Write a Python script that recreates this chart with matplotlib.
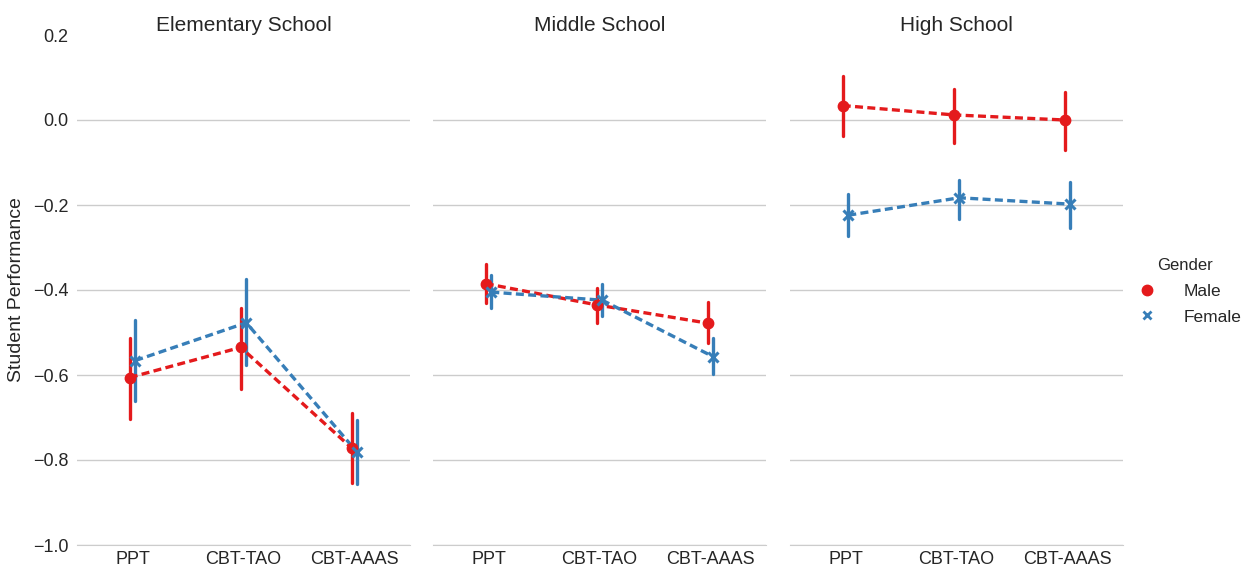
import numpy as np
import matplotlib.pyplot as plt

plt.rcParams['font.family'] = ['Liberation Sans', 'DejaVu Sans']
plt.rcParams['text.color'] = '0.15'
plt.rcParams['axes.labelcolor'] = '0.15'
plt.rcParams['xtick.color'] = '0.15'
plt.rcParams['ytick.color'] = '0.15'

schools = ['Elementary School', 'Middle School', 'High School']
tests = ['PPT', 'CBT-TAO', 'CBT-AAAS']
genders = ['Male', 'Female']

# mean performance per school, rows: test
male_mean = [[-0.606, -0.535, -0.772],
             [-0.385, -0.435, -0.478],
             [0.034, 0.012, 0.000]]
male_lo = [[-0.704, -0.634, -0.855],
           [-0.431, -0.477, -0.525],
           [-0.037, -0.053, -0.071]]
male_hi = [[-0.512, -0.442, -0.689],
           [-0.339, -0.395, -0.429],
           [0.104, 0.072, 0.066]]

female_mean = [[-0.566, -0.477, -0.782],
               [-0.405, -0.424, -0.557],
               [-0.224, -0.183, -0.198]]
female_lo = [[-0.661, -0.576, -0.857],
             [-0.442, -0.460, -0.598],
             [-0.272, -0.233, -0.253]]
female_hi = [[-0.471, -0.374, -0.706],
             [-0.365, -0.385, -0.514],
             [-0.174, -0.140, -0.147]]

colors = {'Male': '#e41a1c', 'Female': '#377eb8'}
markers = {'Male': 'o', 'Female': 'x'}
offsets = {'Male': -0.025, 'Female': 0.025}
series = {'Male': (male_mean, male_lo, male_hi),
          'Female': (female_mean, female_lo, female_hi)}

fig = plt.figure(figsize=(12.44, 5.67), dpi=100)
W, H = 1244, 567
lefts = [77, 433, 790]
axes = []
for i, school in enumerate(schools):
    ax = fig.add_axes([lefts[i] / W, 22 / H, 333 / W, 510 / H],
                      sharey=axes[0] if axes else None)
    axes.append(ax)
    x = np.arange(len(tests))
    for g in genders:
        mean, lo, hi = series[g]
        xs = x + offsets[g]
        c = colors[g]
        for xi, l, h in zip(xs, lo[i], hi[i]):
            ax.plot([xi, xi], [l, h], color=c, lw=2.4, solid_capstyle='round', zorder=2)
        ax.plot(xs, mean[i], color=c, lw=2.4, dashes=(2.4, 1.3), zorder=3)
        if markers[g] == 'o':
            ax.plot(xs, mean[i], ls='none', marker='o', ms=7.5, color=c, zorder=4)
        else:
            ax.plot(xs, mean[i], ls='none', marker='x', ms=7, mew=2.2, color=c, zorder=4)
    ax.set_xlim(-0.5, 2.5)
    ax.set_ylim(-1.0, 0.2)
    ax.set_yticks([-1.0, -0.8, -0.6, -0.4, -0.2, 0.0, 0.2])
    ax.set_xticks(x)
    ax.set_xticklabels(tests, fontsize=13)
    ax.tick_params(axis='y', length=0, labelsize=13, pad=6)
    ax.tick_params(axis='x', length=0, labelsize=13, pad=4)
    ax.grid(axis='y', color='0.8', lw=1)
    ax.set_axisbelow(True)
    for s in ['top', 'right', 'left']:
        ax.spines[s].set_visible(False)
    ax.spines['bottom'].set_color('0.8')
    ax.set_title(school, fontsize=15, pad=3)
    if i > 0:
        ax.tick_params(axis='y', labelleft=False)

# no gridline along the top edge
for ax in axes:
    ax.yaxis.get_gridlines()[-1].set_visible(False)

axes[0].set_ylabel('Student Performance', fontsize=14, labelpad=6)

handles = [plt.Line2D([], [], ls='none', marker='o', ms=7.5, color=colors['Male']),
           plt.Line2D([], [], ls='none', marker='x', ms=6, mew=2, color=colors['Female'])]
leg = fig.legend(handles, genders, title='Gender', loc='center left',
                 bbox_to_anchor=(1114 / W, 0.486), frameon=False,
                 fontsize=12.5, title_fontsize=12, handletextpad=1.1,
                 labelspacing=0.6)

fig.savefig('out.png', dpi=100)
